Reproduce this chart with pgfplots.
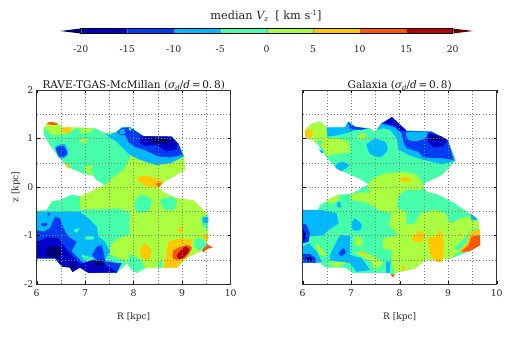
\documentclass[border=0pt]{standalone}
\usepackage{pgfplots}
\pgfplotsset{compat=1.18}
\usepackage{fontspec}
\setmainfont{DejaVu Serif}
\definecolor{cN}{RGB}{0,0,110}
\definecolor{cA}{RGB}{0,0,200}
\definecolor{cB}{RGB}{0,60,245}
\definecolor{cC}{RGB}{0,185,255}
\definecolor{cD}{RGB}{70,255,170}
\definecolor{cE}{RGB}{170,255,65}
\definecolor{cF}{RGB}{255,200,0}
\definecolor{cG}{RGB}{255,85,0}
\definecolor{cH}{RGB}{185,0,0}
\definecolor{cX}{RGB}{100,0,0}
\newcommand{\poly}[2]{\addplot[fill=#1,draw=none,forget plot] coordinates {#2} --cycle;}
\newcommand{\blob}[2]{\addplot[fill=#1,draw=none,forget plot,/tikz/smooth cycle,/tikz/tension=0.4] coordinates {#2};}
\newcommand{\subs}[1]{\raisebox{-1.6pt}{\fontsize{7}{8}\selectfont\itshape #1}}
\newcommand{\sups}[1]{\raisebox{4pt}{\fontsize{7}{8}\selectfont #1}}
\pgfplotsset{panel/.style={scale only axis,width=194pt,height=194pt,anchor=south west,
 xmin=6,xmax=10,ymin=-2,ymax=2,xtick={6,7,8,9,10},ytick={-2,-1,0,1,2},
 xticklabels={6,7,8,9,10},
 minor xtick={6.5,7.5,8.5,9.5},minor ytick={-1.5,-0.5,0.5,1.5},
 grid=both,major grid style={dash pattern=on 0.9pt off 2.2pt,black!50,line width=0.45pt},
 minor grid style={dash pattern=on 0.9pt off 2.2pt,black!50,line width=0.45pt},
 axis on top,axis line style={black!80,line width=0.7pt},
 tick style={black,line width=0.4pt},major tick length=3pt,minor tick length=0pt,
 tick align=inside,
 tick label style={font=\fontsize{9.3}{10}\selectfont,text=black!85},
 xticklabel style={yshift=-2.5pt},
 label style={font=\fontsize{9}{10}\selectfont,text=black!85},
 xlabel={R [kpc]},xlabel style={yshift=-9pt},
 title style={font=\fontsize{10.5}{12}\selectfont,text=black!90,yshift=-10pt}}}
\begin{document}
\begin{tikzpicture}[x=1pt,y=1pt]
\path[use as bounding box] (0,0) rectangle (518,337);
\node[font=\fontsize{11.3}{13}\selectfont,text=black!85] at (266,321) {median {\itshape V}\subs{z}\ \ [ km s\sups{-1}]};
% colour bar
\begin{axis}[at={(80.7pt,303.5pt)},anchor=south west,scale only axis,width=372pt,height=5pt,
 xmin=-20,xmax=20,ymin=0,ymax=1,ytick=\empty,clip=false,axis on top,
 xtick={-20,-15,-10,-5,0,5,10,15,20},xticklabels={-20,-15,-10,-5,0,5,10,15,20},
 tick label style={font=\fontsize{9.3}{10}\selectfont,text=black!85},
 xticklabel style={yshift=-9pt},major tick length=2pt,tick align=inside,
 axis line style={black,line width=0.5pt}]
\poly{cN}{(-20,0)(-22.2,0.5)(-20,1)}
\poly{cA}{(-20,0)(-15,0)(-15,1)(-20,1)}
\poly{cB}{(-15,0)(-10,0)(-10,1)(-15,1)}
\poly{cC}{(-10,0)(-5,0)(-5,1)(-10,1)}
\poly{cD}{(-5,0)(0,0)(0,1)(-5,1)}
\poly{cE}{(0,0)(5,0)(5,1)(0,1)}
\poly{cF}{(5,0)(10,0)(10,1)(5,1)}
\poly{cG}{(10,0)(15,0)(15,1)(10,1)}
\poly{cH}{(15,0)(20,0)(20,1)(15,1)}
\poly{cX}{(20,0)(22.2,0.5)(20,1)}
\end{axis}
% left panel
\begin{axis}[panel,at={(36.7pt,53pt)},yticklabels={-2,-1,0,1,2},ylabel={z [kpc]},ylabel style={yshift=-3pt},
 title={RAVE-TGAS-McMillan ({\itshape σ}\subs{d}/{\itshape d}\,=\,0.\,8)}]
% outline
\poly{cE}{(6.14,1.21)(6.21,1.31)(6.31,1.35)(6.45,1.31)(6.52,1.23)(6.89,1.23)(7.20,1.21)(7.41,1.11)(7.65,1.14)(7.75,1.23)(7.92,1.24)(8.03,1.16)(8.20,1.05)(8.78,1.04)(8.92,0.90)(9.04,0.63)(9.06,0.35)(8.89,0.25)(8.51,0.04)(8.51,0.01)(8.61,-0.10)(8.89,-0.23)(9.23,-0.27)(9.54,-0.58)(9.52,-1.16)(9.37,-1.33)(9.09,-1.47)(8.89,-1.66)(8.51,-1.66)(8.23,-1.68)(8.06,-1.77)(7.96,-1.71)(7.86,-1.57)(7.65,-1.77)(7.07,-1.77)(6.89,-1.66)(6.74,-1.75)(6.69,-1.66)(6.52,-1.64)(6.38,-1.47)(6,-1.47)(6.03,-0.49)(6.21,-0.47)(6.31,-0.30)(6.48,-0.27)(6.72,-0.16)(6.89,-0.19)(7.07,-0.12)(7.34,0.02)(7.41,0.04)(7.24,0.14)(7.17,0.23)(6.96,0.28)(6.62,0.42)(6.45,0.63)(6.27,0.87)(6.15,1.07)}
% top lobe
\poly{cD}{(6.27,1.07)(6.55,1.07)(6.82,1.21)(7.20,1.21)(7.41,1.11)(7.65,1.11)(7.92,0.83)(7.92,0.59)(7.79,0.35)(7.58,0.21)(7.41,0.04)(7.24,0.14)(7.17,0.23)(6.96,0.28)(6.62,0.42)(6.45,0.63)(6.27,0.87)}
\poly{cD}{(6.14,1.21)(6.22,1.18)(6.3,1.07)(6.27,0.87)(6.15,1.07)}
\blob{cE}{(6.88,1.20)(7.17,1.20)(7.05,1.11)(6.93,1.11)}
\blob{cE}{(6.89,.98)(7.03,1.0)(7.04,.91)(6.93,.91)}
\blob{cE}{(7.0,.42)(7.17,.45)(7.11,.35)(7.17,.25)(7.0,.32)}
\poly{cC}{(7.41,1.09)(7.51,1.07)(7.65,1.14)(7.75,1.23)(7.92,1.24)(8.03,1.16)(8.20,1.05)(8.78,1.04)(8.92,0.90)(9.04,0.63)(8.75,0.49)(8.47,0.45)(8.13,0.56)(7.92,0.66)(7.82,0.76)(7.65,0.93)}
\poly{cB}{(7.66,1.14)(7.75,1.21)(7.92,1.23)(8.03,1.16)(8.20,1.05)(8.78,1.04)(8.92,.90)(9.01,.66)(8.75,.61)(8.51,.63)(8.23,.76)(8.03,.82)(7.89,.93)(7.82,1.07)(7.72,1.07)}
\blob{cC}{(7.70,1.16)(7.80,1.20)(7.82,1.11)(7.73,1.09)}
\blob{cD}{(7.9,1.23)(7.96,1.21)(7.92,1.15)}
\poly{cA}{(8.13,1.04)(8.78,1.04)(8.89,.90)(8.90,.78)(8.68,.73)(8.47,.87)(8.23,.85)(8.13,.90)}
\blob{cN}{(8.30,1.02)(8.61,1.02)(8.78,.93)(8.54,.89)(8.34,.93)}
\blob{cC}{(6.38,.83)(6.58,.89)(6.65,.69)(6.55,.59)(6.45,.61)}
\blob{cB}{(6.40,.80)(6.55,.85)(6.63,.69)(6.52,.61)(6.45,.66)}
\blob{cG}{(6.21,1.30)(6.27,1.34)(6.41,1.32)(6.43,1.29)(6.33,1.28)}
\blob{cF}{(6.52,1.21)(6.69,1.23)(6.70,1.14)(6.58,1.11)}
\blob{cF}{(6.58,.50)(6.69,.42)(6.65,.38)}
\blob{cF}{(8.06,.18)(8.27,.23)(8.61,.11)(8.51,0)(8.23,.03)}
\blob{cG}{(8.46,.06)(8.56,.09)(8.53,0)}
% lower part
\poly{cD}{(6.03,-.49)(6.21,-.47)(6.31,-.30)(6.48,-.27)(6.72,-.16)(6.89,-.19)(6.89,-.46)(7.37,-.46)(7.65,-.44)(7.92,-.51)(7.91,-.75)(7.92,-.99)(7.68,-1.06)(7.55,-1.16)(7.48,-1.37)(7.79,-1.51)(7.86,-1.57)(7.65,-1.77)(7.07,-1.77)(6.89,-1.66)(6.74,-1.75)(6.69,-1.66)(6.52,-1.64)(6.38,-1.47)(6,-1.47)(6,-.49)}
\blob{cD}{(8.16,-.16)(8.37,-.27)(8.30,-.51)(8.06,-.51)(8.03,-.30)}
\blob{cD}{(8.54,-.27)(8.75,-.20)(8.89,-.27)(8.83,-.47)(8.65,-.47)(8.58,-.37)}
\poly{cD}{(9.40,-.61)(9.54,-.58)(9.53,-.89)(9.40,-.78)}
\blob{cC}{(9.42,-.63)(9.53,-.63)(9.53,-.74)(9.44,-.74)}
\blob{cD}{(9.26,-1.09)(9.40,-1.06)(9.51,-1.20)(9.37,-1.31)(9.26,-1.23)}
\poly{cD}{(7.92,-1.38)(8.16,-1.51)(8.23,-1.68)(8.06,-1.77)(7.96,-1.71)(7.86,-1.57)}
\poly{cD}{(8.51,-1.52)(8.58,-1.52)(8.58,-1.66)(8.51,-1.66)}
\blob{cF}{(8.23,-1.16)(8.37,-1.30)(8.30,-1.51)(8.16,-1.44)(8.13,-1.30)}
\poly{cF}{(8.71,-1.13)(8.96,-1.06)(9.20,-1.09)(9.16,-1.33)(8.89,-1.66)(8.61,-1.66)(8.68,-1.37)}
\blob{cG}{(8.82,-1.31)(9.09,-1.20)(9.20,-1.26)(9.06,-1.47)(8.82,-1.49)}
\blob{cH}{(8.89,-1.40)(9.06,-1.23)(9.15,-1.30)(9.02,-1.46)(8.92,-1.48)}
\blob{cF}{(8.92,-.85)(8.99,-.82)(9.01,-.92)(8.94,-.94)}
\blob{cF}{(9.44,-.99)(9.54,-.98)(9.53,-1.09)(9.45,-1.09)}
\poly{cG}{(9.52,-1.18)(9.63,-1.25)(9.50,-1.28)(9.44,-1.35)(9.40,-1.31)}
\poly{cC}{(6.03,-.51)(6.89,-.51)(7.07,-.65)(7.24,-.82)(7.27,-1.02)(7.41,-1.13)(7.51,-1.33)(7.41,-1.51)(7.58,-1.54)(7.65,-1.77)(7.07,-1.77)(6.89,-1.66)(6.74,-1.75)(6.69,-1.66)(6.52,-1.64)(6.38,-1.47)(6,-1.47)(6,-.51)}
\blob{cD}{(6.76,-.89)(6.88,-.85)(6.82,-.94)}
\blob{cD}{(7.0,-1.02)(7.17,-1.02)(7.17,-1.08)(7.0,-1.08)}
\blob{cD}{(6.93,-1.40)(7.17,-1.47)(7.03,-1.54)}
\blob{cB}{(6.10,-.75)(6.21,-.74)(6.21,-.80)(6.10,-.80)}
\blob{cB}{(6.22,-.54)(6.27,-.54)(6.25,-.60)}
\poly{cB}{(6,-.89)(6.14,-.92)(6.27,-.85)(6.38,-.61)(6.48,-.65)(6.55,-.85)(6.65,-1.02)(6.82,-1.13)(6.72,-1.33)(6.96,-1.57)(7.24,-1.51)(7.14,-1.40)(7.24,-1.23)(7.34,-1.20)(7.39,-1.40)(7.41,-1.54)(7.61,-1.56)(7.75,-1.57)(7.65,-1.77)(7.07,-1.77)(6.89,-1.66)(6.74,-1.75)(6.69,-1.66)(6.52,-1.64)(6.38,-1.47)(6,-1.47)}
\poly{cA}{(6,-1.13)(6.24,-1.04)(6.45,-1.06)(6.55,-1.20)(6.62,-1.29)(6.76,-1.45)(6.89,-1.59)(7.17,-1.50)(7.34,-1.57)(7.51,-1.66)(7.64,-1.75)(7.07,-1.77)(6.89,-1.66)(6.74,-1.75)(6.69,-1.66)(6.52,-1.64)(6.38,-1.47)(6,-1.47)}
\blob{cN}{(6.21,-1.26)(6.45,-1.23)(6.52,-1.40)(6.38,-1.46)(6.21,-1.40)}
\poly{cN}{(6.69,-1.54)(6.79,-1.61)(6.74,-1.75)(6.69,-1.66)}
\blob{cN}{(7.17,-1.54)(7.34,-1.52)(7.41,-1.61)(7.21,-1.63)}
\end{axis}
% right panel
\begin{axis}[panel,at={(302.7pt,53pt)},yticklabels={},
 title={Galaxia ({\itshape σ}\subs{d}/{\itshape d}\,=\,0.\,8)}]
\poly{cD}{(6.05,1.18)(6.05,1.04)(6.19,1.31)(6.36,1.35)(6.49,1.23)(6.87,1.23)(6.94,1.35)(7.08,1.24)(7.39,1.21)(7.49,1.14)(7.62,1.31)(7.84,1.44)(8.14,1.16)(8.66,1.14)(8.99,.97)(9.15,.54)(8.87,.25)(8.52,.08)(8.49,.01)(8.56,-.10)(8.80,-.16)(9.14,-.34)(9.62,-.68)(9.66,-1.20)(9.42,-1.33)(9.07,-1.47)(8.52,-1.51)(8.32,-1.68)(7.90,-1.77)(7.86,-1.86)(7.79,-1.77)(7.04,-1.77)(6.87,-1.66)(6.46,-1.66)(6.36,-1.56)(6,-1.56)(6,-.47)(6.31,-.47)(6.36,-.37)(6.53,-.27)(6.74,-.16)(7.01,-.14)(7.32,.04)(7.39,.04)(7.15,.18)(6.70,.38)(6.49,.61)(6.32,.87)(6.19,.98)(6.06,1.0)}
\poly{cE}{(6.05,1.18)(6.19,1.31)(6.36,1.35)(6.49,1.23)(6.49,1.03)(6.94,.95)(6.98,.73)(6.70,.68)(6.49,.64)(6.39,.84)(6.32,.87)(6.19,.98)(6.06,1.0)}
\blob{cF}{(6.05,1.16)(6.19,1.18)(6.20,1.07)(6.12,1.0)(6.06,1.04)}
\blob{cF}{(6.43,.87)(6.49,.87)(6.47,.80)}
\blob{cD}{(6.29,.94)(6.39,.97)(6.38,.87)(6.32,.87)}
\poly{cC}{(6.49,1.23)(6.87,1.23)(6.94,1.35)(7.08,1.24)(7.39,1.20)(7.08,1.17)(6.94,1.12)(6.74,1.07)(6.52,1.04)}
\poly{cB}{(6.93,1.33)(7.08,1.24)(7.32,1.21)(7.22,1.18)(6.98,1.19)}
\blob{cE}{(7.15,1.07)(7.29,1.11)(7.29,1.0)(7.15,1.0)}
\blob{cC}{(7.32,.87)(7.49,.99)(7.70,.93)(7.75,.76)(7.59,.61)(7.39,.69)}
\blob{cC}{(6.67,.42)(6.80,.52)(6.96,.45)(6.80,.33)}
\blob{cC}{(6.34,.78)(6.43,.73)(6.39,.69)}
\poly{cC}{(7.53,1.18)(7.62,1.31)(7.84,1.44)(8.14,1.16)(8.66,1.14)(8.99,.97)(9.15,.54)(8.87,.47)(8.45,.57)(8.18,.66)(7.97,.78)(7.94,1.0)(7.80,1.18)(7.66,1.21)}
\poly{cB}{(7.62,1.31)(7.84,1.44)(8.14,1.16)(8.66,1.14)(8.99,.97)(9.11,.56)(8.90,.59)(8.49,.61)(8.38,.73)(8.14,.80)(8.08,.93)(8.04,1.11)(7.90,1.23)(7.66,1.30)}
\blob{cC}{(8.14,1.13)(8.56,1.13)(8.52,1.0)(8.35,.95)(8.18,.97)}
\poly{cA}{(7.66,1.31)(7.84,1.44)(8.14,1.16)(8.04,1.16)(7.84,1.29)}
\poly{cA}{(8.59,1.11)(8.87,1.04)(8.97,.95)(8.90,.84)(8.69,.82)(8.59,.93)}
\poly{cN}{(8.63,1.11)(8.73,1.04)(8.93,1.0)(8.76,.97)(8.63,.97)}
% lower
\poly{cE}{(7.34,.04)(7.46,.18)(7.70,.28)(8.11,.32)(8.35,.25)(8.49,.04)(8.46,-.06)(8.11,-.06)(7.97,-.20)(7.94,-.44)(8.14,-.51)(8.14,-.78)(8.32,-.75)(8.42,-.54)(8.73,-.47)(8.94,-.54)(9.04,-.75)(9.28,-.65)(9.48,-.58)(9.62,-.71)(9.66,-1.16)(9.42,-1.33)(9.21,-1.33)(9.07,-1.47)(8.52,-1.51)(8.32,-1.68)(7.90,-1.77)(7.84,-1.64)(7.84,-1.30)(7.66,-1.27)(7.66,-1.06)(7.97,-.99)(7.77,-.78)(7.84,-.54)(7.56,-.47)(7.42,-.37)(7.39,-.13)}
\blob{cF}{(7.99,.16)(8.11,.21)(8.25,.14)(8.11,.10)}
\blob{cE}{(7.01,-.14)(7.39,-.13)(7.42,-.37)(7.25,-.30)(7.01,-.27)}
\blob{cE}{(6.49,-.28)(6.74,-.16)(6.74,-.27)(6.6,-.34)}
\blob{cE}{(7.08,-1.02)(7.22,-1.06)(7.22,-1.20)(7.08,-1.20)}
\blob{cE}{(6.29,-1.16)(6.39,-1.27)(6.49,-1.40)(6.36,-1.40)(6.29,-1.27)}
\poly{cE}{(7.04,-1.33)(7.42,-1.40)(7.66,-1.57)(7.49,-1.71)(7.42,-1.54)(7.15,-1.40)}
\poly{cE}{(6.49,-1.57)(6.94,-1.54)(6.70,-1.66)}
\blob{cD}{(9.13,-1.25)(9.3,-1.09)(9.48,-.89)(9.6,-.86)(9.45,-1.09)(9.21,-1.3)}
\poly{cF}{(9.45,-.92)(9.66,-.87)(9.66,-1.20)(9.42,-1.33)(9.21,-1.33)(9.38,-1.16)}
\poly{cG}{(9.48,-1.02)(9.66,-.99)(9.66,-1.20)(9.42,-1.33)(9.26,-1.33)(9.42,-1.20)}
\blob{cF}{(8.59,-1.06)(8.73,-1.02)(8.83,-.89)(8.90,-1.06)(8.90,-1.33)(8.87,-1.54)(8.76,-1.54)(8.63,-1.40)}
\blob{cF}{(8.25,-1.02)(8.45,-.90)(8.52,-1.02)(8.45,-1.14)(8.28,-1.11)}
\blob{cF}{(9.24,-.92)(9.28,-.99)(9.22,-1.01)}
\blob{cF}{(7.2,-1.32)(7.3,-1.35)(7.22,-1.40)}
\blob{cF}{(8.04,-1.64)(8.11,-1.65)(8.06,-1.75)}
\poly{cC}{(6,-.47)(6.36,-.47)(6.70,-.54)(6.74,-.75)(6.53,-.89)(6.43,-.99)(6.12,-1.02)(6,-1.16)}
\poly{cB}{(6,-.75)(6.08,-.78)(6.15,-.96)(6.12,-1.13)(6,-1.16)}
\poly{cA}{(6,-.85)(6.06,-.96)(6.05,-1.09)(6,-1.13)}
\poly{cC}{(6,-1.23)(6.12,-1.16)(6.29,-1.33)(6.39,-1.54)(6.36,-1.56)(6,-1.56)}
\poly{cB}{(6,-1.38)(6.15,-1.38)(6.27,-1.47)(6.27,-1.56)(6,-1.56)}
\blob{cN}{(6.05,-1.47)(6.15,-1.44)(6.22,-1.51)(6.12,-1.54)}
\poly{cC}{(6.77,-.99)(6.98,-1.01)(6.98,-1.40)(7.22,-1.47)(7.39,-1.71)(7.11,-1.75)(6.98,-1.57)(6.56,-1.51)(6.56,-1.40)}
\blob{cB}{(6.74,-1.37)(6.84,-1.26)(6.89,-1.35)(6.80,-1.42)}
\blob{cC}{(7.01,-.75)(7.08,-.65)(7.22,-.78)(7.18,-.89)(7.04,-.89)}
\blob{cC}{(6.70,-.34)(6.77,-.30)(6.79,-.41)(6.72,-.42)}
\poly{cC}{(7.72,-1.54)(7.81,-1.54)(7.79,-1.77)(7.72,-1.77)}
\poly{cC}{(9.46,-.54)(9.59,-.65)(9.57,-.69)(9.47,-.67)}
\poly{cG}{(7.81,-1.80)(7.91,-1.80)(7.86,-1.86)}
\end{axis}
\end{tikzpicture}
\end{document}
